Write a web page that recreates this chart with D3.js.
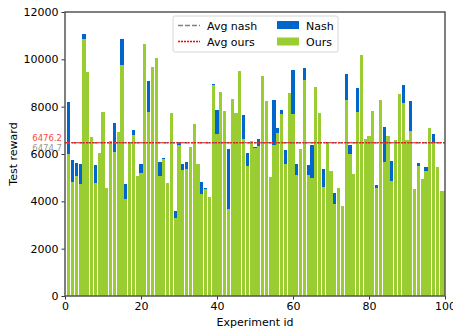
<!DOCTYPE html>
<html>
<head>
<meta charset="utf-8">
<script src="https://cdn.jsdelivr.net/npm/d3@7"></script>
<style>
body { margin: 0; background: #fff; }
text { font-family: "DejaVu Sans", sans-serif; }
</style>
</head>
<body>
<script>
var width = 453, height = 331;
var margin = {top: 12, right: 8, bottom: 35, left: 65};

// values, experiment ids 1..100
var ours = [6000, 4800, 5060, 4720, 10860, 9450, 6700, 4760, 6030, 7760,
	4550, 6540, 6070, 6920, 9750, 4100, 6450, 6790, 5060, 5190,
	10630, 7760, 9660, 10040, 5060, 5780, 4760, 7720, 3280, 6370,
	5310, 5350, 6280, 7250, 5560, 4300, 4510, 4170, 8900, 6830,
	8600, 7800, 3660, 8310, 7720, 9490, 6620, 5480, 6540, 6240,
	6330, 9280, 8230, 5020, 6370, 6870, 7680, 5560, 8560, 7680,
	5100, 6200, 9110, 5100, 4970, 8820, 7720, 4590, 6450, 5270,
	3870, 4550, 3790, 8270, 5990, 5140, 7760, 10170, 6620, 6750,
	7800, 4550, 8270, 5650, 6750, 4850, 6580, 8520, 8140, 6580,
	6960, 4510, 5480, 4930, 5270, 7090, 6450, 5440, 4420, 4420];

var nash = [8180, 5730, 5610, 5570, 11060, 8300, 6100, 5520, 5400, 7000,
	4200, 5900, 7300, 6300, 10850, 4720, 5800, 7000, 4700, 5570,
	9400, 9070, 8700, 9200, 5650, 5820, 4300, 6900, 3580, 6490,
	5570, 5650, 5700, 6600, 5100, 4800, 4560, 3900, 8950, 7850,
	7600, 7100, 6200, 7500, 7000, 8500, 7640, 6030, 6000, 6280,
	6620, 8200, 7400, 4600, 8270, 7090, 7850, 6160, 7700, 9540,
	5570, 5600, 9620, 5520, 6370, 7900, 7100, 5350, 5900, 4800,
	4340, 4100, 3500, 9370, 6370, 4700, 8780, 9100, 6000, 6200,
	7000, 4680, 7500, 7130, 6100, 5690, 6000, 7700, 8900, 6000,
	8230, 4100, 5610, 4500, 5440, 6400, 6830, 4900, 4000, 4100];

var avgNash = 6474.7;
var avgOurs = 6476.2;

var xTicks = [0, 20, 40, 60, 80, 100];
var yTicks = [0, 2000, 4000, 6000, 8000, 10000, 12000];

var blue = "#0066cc", green = "#9acd32";

var svg = d3.select("body").append("svg")
	.attr("width", width)
	.attr("height", height);

var innerW = width - margin.left - margin.right;
var innerH = height - margin.top - margin.bottom;

var x = d3.scaleLinear().domain([0, 100]).range([0, innerW]);
var y = d3.scaleLinear().domain([0, 12000]).range([innerH, 0]);

svg.append("defs").append("clipPath").attr("id", "clip")
	.append("rect").attr("width", innerW).attr("height", innerH);

var g = svg.append("g")
	.attr("transform", "translate(" + margin.left + "," + margin.top + ")");

var plot = g.append("g").attr("clip-path", "url(#clip)");

var barW = x(0.8) - x(0);

// nash first, ours drawn over it
plot.selectAll(".nash")
	.data(nash)
	.enter()
	.append("rect")
	.attr("class", "nash")
	.attr("x", function(d, i) { return x(i + 1) - barW / 2; })
	.attr("y", function(d) { return y(d); })
	.attr("width", barW)
	.attr("height", function(d) { return innerH - y(d); })
	.attr("fill", blue)
	.attr("shape-rendering", "crispEdges");

plot.selectAll(".ours")
	.data(ours)
	.enter()
	.append("rect")
	.attr("class", "ours")
	.attr("x", function(d, i) { return x(i + 1) - barW / 2; })
	.attr("y", function(d) { return y(d); })
	.attr("width", barW)
	.attr("height", function(d) { return innerH - y(d); })
	.attr("fill", green)
	.attr("shape-rendering", "crispEdges");

// average lines
g.append("line")
	.attr("x1", 0).attr("x2", innerW)
	.attr("y1", y(avgNash)).attr("y2", y(avgNash))
	.attr("stroke", "#808080").attr("stroke-width", 1.3)
	.attr("stroke-dasharray", "5,2");
g.append("line")
	.attr("x1", 0).attr("x2", innerW)
	.attr("y1", y(avgOurs)).attr("y2", y(avgOurs))
	.attr("stroke", "#ff0000").attr("stroke-width", 1.1)
	.attr("stroke-dasharray", "2,1");

g.append("text")
	.attr("x", -3).attr("y", y(avgOurs) - 2)
	.attr("text-anchor", "end")
	.attr("font-size", 8.5)
	.attr("fill", "red")
	.attr("opacity", 0.75)
	.text(avgOurs.toFixed(1));
g.append("text")
	.attr("x", -3).attr("y", y(avgNash) + 8)
	.attr("text-anchor", "end")
	.attr("font-size", 8.5)
	.attr("fill", "#808080")
	.attr("opacity", 0.8)
	.text(avgNash.toFixed(1));

// axes
var xAxis = g.append("g")
	.attr("transform", "translate(0," + innerH + ")")
	.call(d3.axisBottom(x).tickValues(xTicks).tickFormat(d3.format("d")).tickSize(3.5).tickPadding(3));
var yAxis = g.append("g")
	.call(d3.axisLeft(y).tickValues(yTicks).tickFormat(d3.format("d")).tickSize(3.5).tickPadding(3));

[xAxis, yAxis].forEach(function(a) {
	a.select(".domain").remove();
	a.selectAll("text").attr("font-size", 11).attr("fill", "#000")
		.style("font-family", "'DejaVu Sans', sans-serif");
	a.selectAll("line").attr("stroke", "#000").attr("stroke-width", 0.8);
});

g.append("rect")
	.attr("width", innerW).attr("height", innerH)
	.attr("fill", "none")
	.attr("stroke", "#555").attr("stroke-width", 1.5);

svg.append("text")
	.attr("x", margin.left + innerW / 2)
	.attr("y", height - 5)
	.attr("text-anchor", "middle")
	.attr("font-size", 11)
	.text("Experiment id");

svg.append("text")
	.attr("transform", "translate(17," + (margin.top + innerH / 2) + ")rotate(-90)")
	.attr("text-anchor", "middle")
	.attr("font-size", 11)
	.text("Test reward");

// legend
var leg = svg.append("g").attr("transform", "translate(173,16)");
leg.append("rect")
	.attr("width", 165).attr("height", 36).attr("rx", 2)
	.attr("fill", "#fff").attr("fill-opacity", 0.8)
	.attr("stroke", "#ccc").attr("stroke-width", 0.8);

leg.append("line")
	.attr("x1", 5).attr("x2", 27).attr("y1", 9.5).attr("y2", 9.5)
	.attr("stroke", "#808080").attr("stroke-width", 1.3)
	.attr("stroke-dasharray", "5,2");
leg.append("text").attr("x", 34).attr("y", 13.5).attr("font-size", 11).text("Avg nash");

leg.append("line")
	.attr("x1", 5).attr("x2", 27).attr("y1", 25.5).attr("y2", 25.5)
	.attr("stroke", "#ff0000").attr("stroke-width", 1.4)
	.attr("stroke-dasharray", "2,1");
leg.append("text").attr("x", 34).attr("y", 29.5).attr("font-size", 11).text("Avg ours");

leg.append("rect").attr("x", 104).attr("y", 5).attr("width", 22).attr("height", 8).attr("fill", blue);
leg.append("text").attr("x", 133).attr("y", 13.5).attr("font-size", 11).text("Nash");
leg.append("rect").attr("x", 104).attr("y", 21.5).attr("width", 22).attr("height", 8).attr("fill", green);
leg.append("text").attr("x", 133).attr("y", 29.5).attr("font-size", 11).text("Ours");
</script>
</body>
</html>
